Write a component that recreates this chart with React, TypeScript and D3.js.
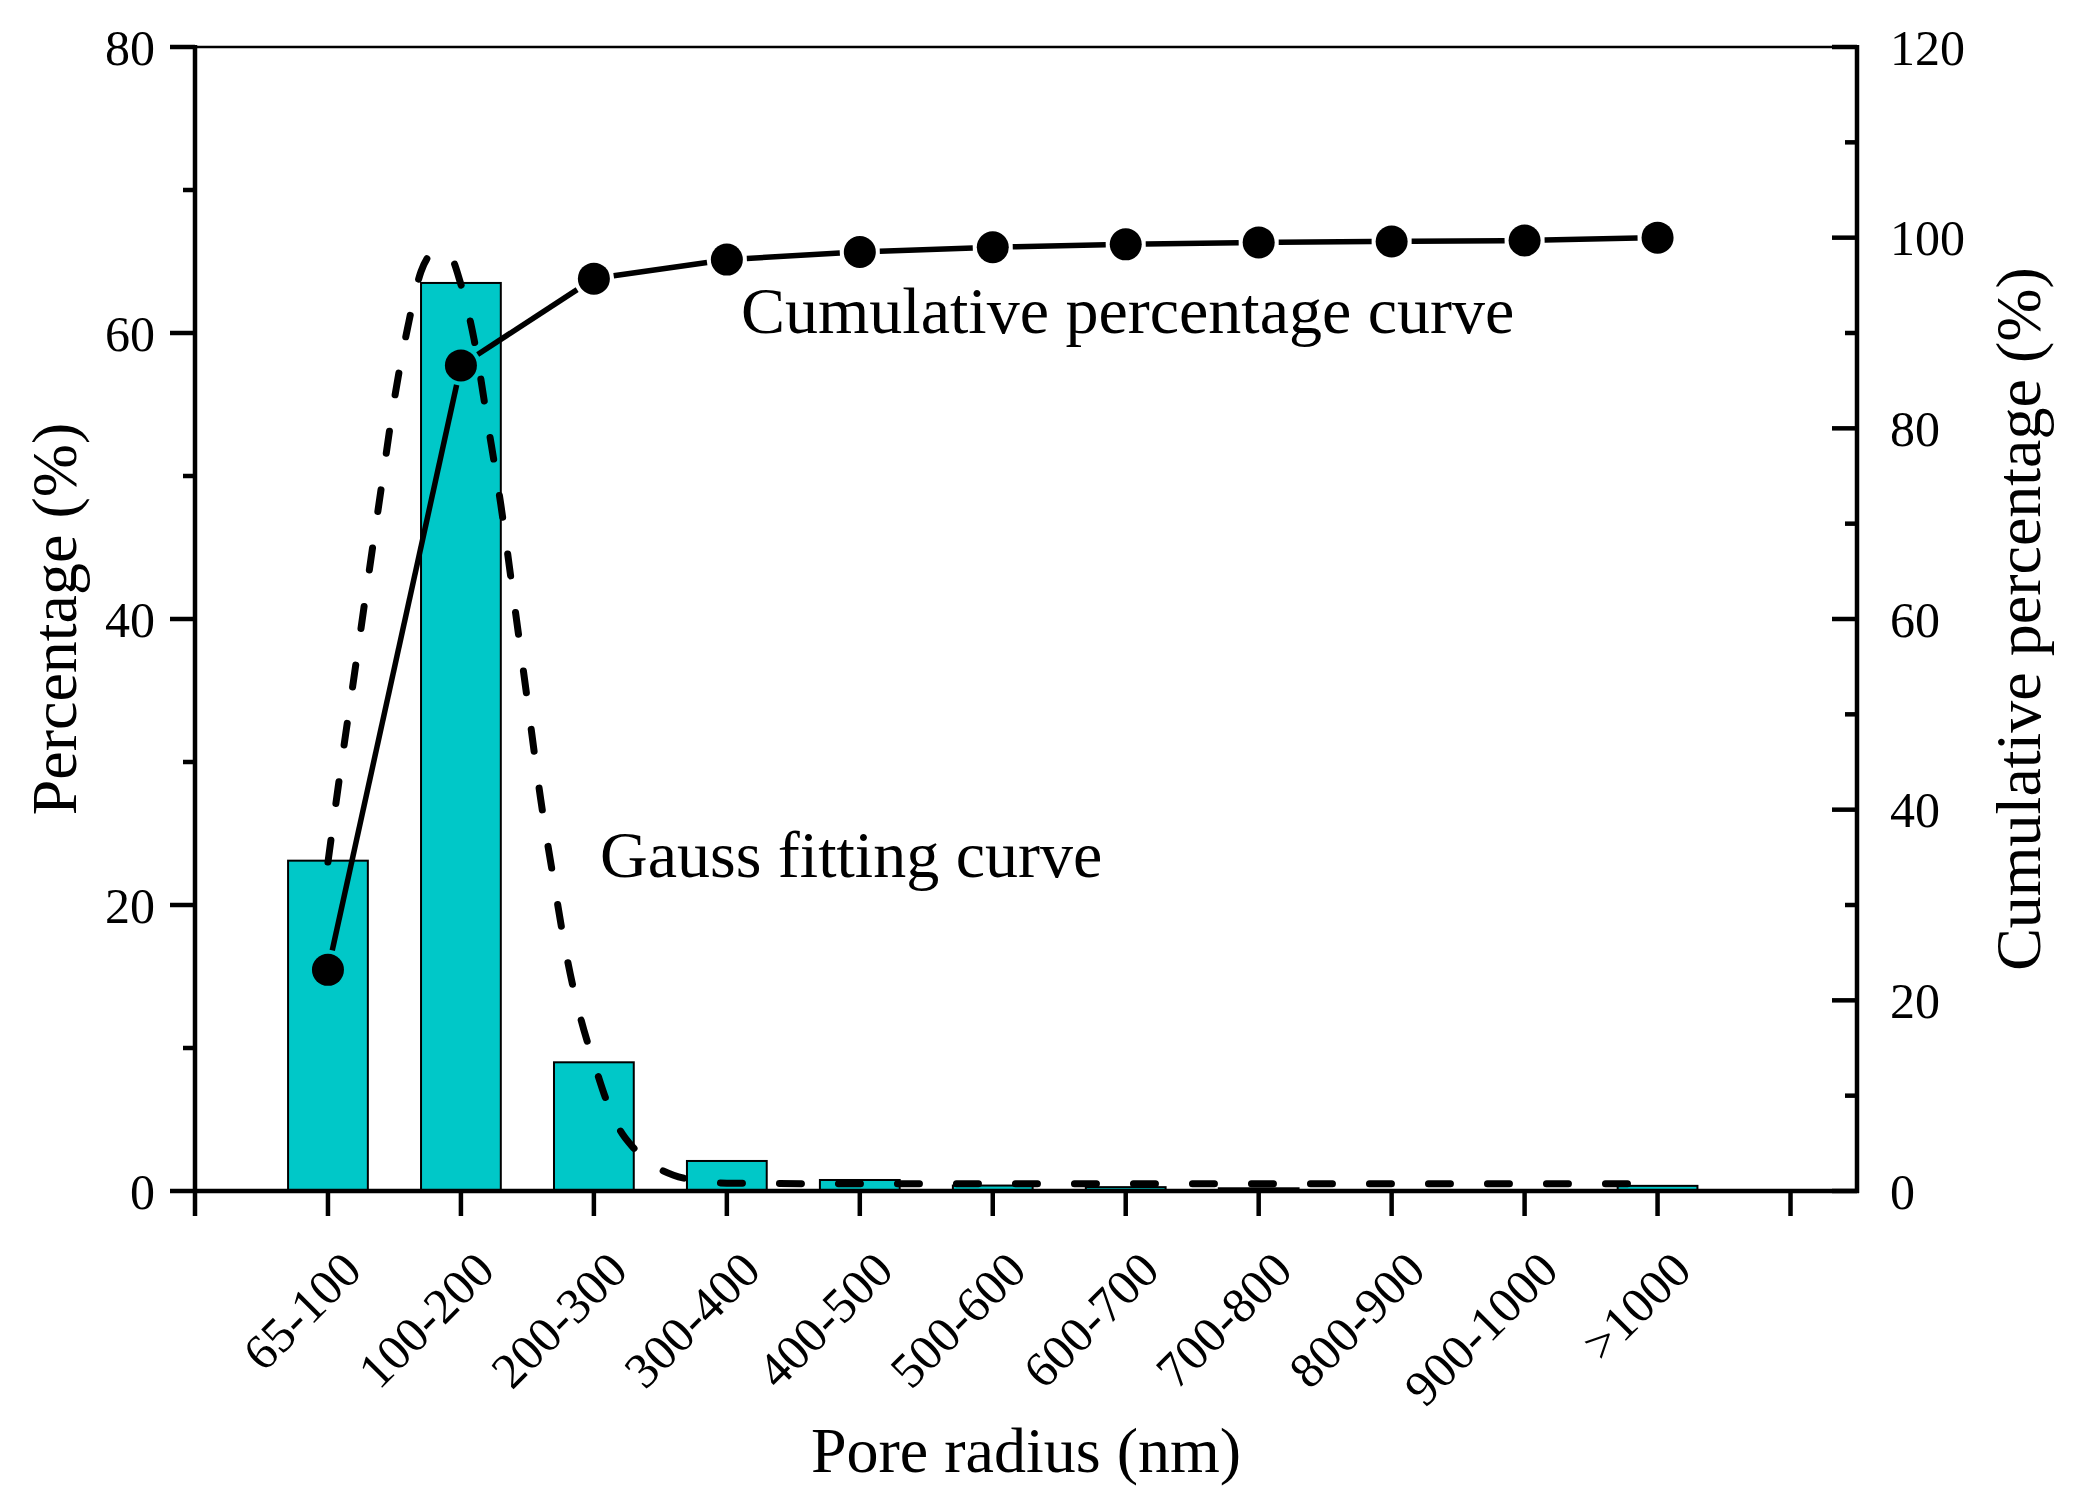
import * as d3 from "d3";

// pore radius classes (nm)
const categories = [
  "65-100", "100-200", "200-300", "300-400", "400-500", "500-600",
  "600-700", "700-800", "800-900", "900-1000", ">1000",
];
// percentage of each class (%), left axis
const percentage = [23.1, 63.5, 9.0, 2.1, 0.77, 0.38, 0.27, 0.19, 0, 0, 0.36];
// cumulative percentage (%), right axis
const cumulative = [23.2, 86.6, 95.7, 97.7, 98.5, 99.0, 99.3, 99.5, 99.6, 99.7, 100];

// gauss fitting curve (x in category units, 1 = first class)
const gaussX = [
  1.0, 1.1, 1.2, 1.3, 1.4, 1.5, 1.6, 1.7, 1.8, 1.9, 2.0, 2.1, 2.2, 2.3, 2.4, 2.5,
  2.6, 2.7, 2.8, 2.9, 3.0, 3.1, 3.2, 3.3, 3.4, 3.5, 3.6, 3.8, 4.0, 5, 6, 7, 8, 9, 10, 11,
];
const gaussY = [
  23.0, 29.8, 36.2, 42.7, 49.1, 55.4, 60.4, 64.3, 65.6, 65.6, 63.4, 59.5, 53.8, 48.0, 41.2, 34.3,
  27.4, 21.6, 16.2, 12.1, 9.0, 6.2, 4.2, 3.0, 2.1, 1.5, 1.1, 0.7, 0.55, 0.5, 0.5, 0.5, 0.5, 0.5, 0.5, 0.5,
];

const leftTicks = [0, 20, 40, 60, 80];
const rightTicks = [0, 20, 40, 60, 80, 100, 120];

const W = 2080;
const H = 1502;
const FONT = '"Liberation Serif", "Times New Roman", serif';

export default function App() {
  const x = d3.scaleLinear().domain([0, 12.5]).range([195, 1857]);
  const yL = d3.scaleLinear().domain([0, 80]).range([1191, 47]);
  const yR = d3.scaleLinear().domain([0, 120]).range([1191, 47]);

  const x0 = x(0), x1 = x(12.5), yb = yL(0), yt = yL(80);
  const barW = x(0.6) - x(0);

  const gaussLine = d3
    .line<number>()
    .x((_, i) => x(gaussX[i]))
    .y((d) => yL(d))
    .curve(d3.curveMonotoneX);

  // cumulative points in pixels, segments stop short of the symbols
  const r = 16;
  const gap = r + 4;
  const pts = cumulative.map((v, i) => [x(i + 1), yR(v)] as [number, number]);
  const segs = pts.slice(1).map((p, i) => {
    const q = pts[i];
    const dx = p[0] - q[0], dy = p[1] - q[1];
    const len = Math.hypot(dx, dy);
    const ux = dx / len, uy = dy / len;
    return [q[0] + ux * gap, q[1] + uy * gap, p[0] - ux * gap, p[1] - uy * gap];
  });

  const leftMinor = d3.range(0, 81, 10);
  const rightMinor = d3.range(0, 121, 10);
  const bottomTicks = d3.range(0, 13);

  return (
    <div style={{ position: "absolute", left: 0, top: 0, background: "#fff" }}>
      <svg width={W} height={H} viewBox={`0 0 ${W} ${H}`} style={{ display: "block" }} fontFamily={FONT}>
        <rect width={W} height={H} fill="#fff" />

        {/* bars */}
        {percentage.map((v, i) =>
          v > 0 ? (
            <rect
              key={categories[i]}
              x={x(i + 1) - barW / 2}
              y={yL(v)}
              width={barW}
              height={yb - yL(v)}
              fill="#00C8C8"
              stroke="#000"
              strokeWidth={2}
            />
          ) : null
        )}

        {/* gauss fitting curve */}
        <path
          d={gaussLine(gaussY) || ""}
          fill="none"
          stroke="#000"
          strokeWidth={7}
          strokeDasharray="22 37"
          strokeLinecap="round"
        />

        {/* cumulative curve */}
        {segs.map((s, i) => (
          <line key={i} x1={s[0]} y1={s[1]} x2={s[2]} y2={s[3]} stroke="#000" strokeWidth={5.5} />
        ))}
        {pts.map((p, i) => (
          <circle key={i} cx={p[0]} cy={p[1]} r={r} fill="#000" />
        ))}

        {/* frame */}
        <line x1={x0} y1={yt} x2={x1} y2={yt} stroke="#000" strokeWidth={2.5} />
        <line x1={x0} y1={yt - 2} x2={x0} y2={yb + 2} stroke="#000" strokeWidth={4.5} />
        <line x1={x1} y1={yt - 2} x2={x1} y2={yb + 2} stroke="#000" strokeWidth={4.5} />
        <line x1={x0 - 2} y1={yb} x2={x1 + 2} y2={yb} stroke="#000" strokeWidth={4.5} />

        {/* left axis ticks */}
        {leftMinor.map((v) => (
          <line key={v} x1={x0 - (v % 20 === 0 ? 25 : 12)} x2={x0} y1={yL(v)} y2={yL(v)} stroke="#000" strokeWidth={4.5} />
        ))}
        {leftTicks.map((v) => (
          <text key={v} x={155} y={yL(v)} dy="0.35em" textAnchor="end" fontSize={50}>
            {v}
          </text>
        ))}

        {/* right axis ticks (inside) */}
        {rightMinor.map((v) => (
          <line key={v} x1={x1 - (v % 20 === 0 ? 25 : 12)} x2={x1} y1={yR(v)} y2={yR(v)} stroke="#000" strokeWidth={4.5} />
        ))}
        {rightTicks.map((v) => (
          <text key={v} x={1890} y={yR(v)} dy="0.35em" textAnchor="start" fontSize={50}>
            {v}
          </text>
        ))}

        {/* bottom ticks and labels */}
        {bottomTicks.map((t) => (
          <line key={t} x1={x(t)} x2={x(t)} y1={yb} y2={yb + 25} stroke="#000" strokeWidth={4.5} />
        ))}
        {categories.map((c, i) => (
          <text
            key={c}
            transform={`translate(${x(i + 1) + 36},${1273}) rotate(-45)`}
            textAnchor="end"
            fontSize={50}
          >
            {c}
          </text>
        ))}

        {/* annotations */}
        <text x={741} y={333} fontSize={66}>Cumulative percentage curve</text>
        <text x={600} y={877} fontSize={66}>Gauss fitting curve</text>

        {/* axis titles */}
        <text x={(x0 + x1) / 2} y={1472} textAnchor="middle" fontSize={64}>
          Pore radius (nm)
        </text>
        <text transform={`translate(76,${(yt + yb) / 2}) rotate(-90)`} textAnchor="middle" fontSize={64}>
          Percentage (%)
        </text>
        <text transform={`translate(2040,${(yt + yb) / 2}) rotate(-90)`} textAnchor="middle" fontSize={64}>
          Cumulative percentage (%)
        </text>
      </svg>
    </div>
  );
}
